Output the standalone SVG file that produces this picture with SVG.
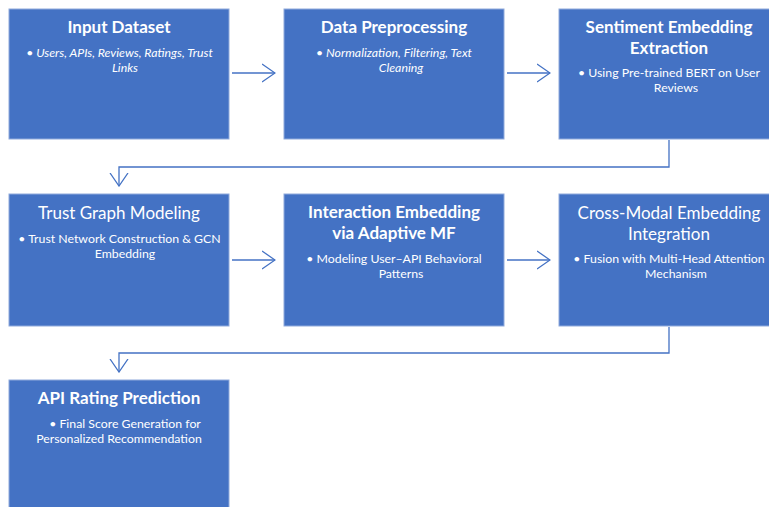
<svg xmlns="http://www.w3.org/2000/svg" width="769" height="507" viewBox="0 0 769 507">
<defs>
<style>
.box{fill:#4472C4;stroke:#8FAADC;stroke-width:1}
.t{font-family:Lato,"Liberation Sans",sans-serif;font-size:17px;fill:#fff;text-anchor:middle}
.b{font-weight:bold}
.s{font-family:Lato,"Liberation Sans",sans-serif;font-size:12.3px;fill:#fff;text-anchor:middle}
.i{font-style:italic}
.c{fill:none;stroke:#4472C4;stroke-width:1.3}
</style>
<marker id="arr" viewBox="0 0 14 20" refX="13" refY="10" markerWidth="14" markerHeight="20" markerUnits="userSpaceOnUse" orient="auto">
<path d="M0,1 L13,10 L0,19" fill="none" stroke="#4472C4" stroke-width="1.3"/>
</marker>
</defs>
<rect width="769" height="507" fill="#fff"/>
<g id="connectors">
<path class="c" d="M232,73 H275" marker-end="url(#arr)"/>
<path class="c" d="M507,73 H550" marker-end="url(#arr)"/>
<path class="c" d="M669,140 V167 H119 V186" marker-end="url(#arr)"/>
<path class="c" d="M232,260 H275" marker-end="url(#arr)"/>
<path class="c" d="M507,260 H550" marker-end="url(#arr)"/>
<path class="c" d="M669,327 V353 H119 V372" marker-end="url(#arr)"/>
</g>
<g id="n1">
<rect class="box" x="9" y="9" width="220" height="130"/>
<text class="t b" x="119" y="33">Input Dataset</text>
<text class="s i" x="119.5" y="57">•  Users, APIs, Reviews, Ratings, Trust</text>
<text class="s i" x="125" y="72">Links</text>
</g>
<g id="n2">
<rect class="box" x="284" y="9" width="220" height="130"/>
<text class="t b" x="394" y="33">Data Preprocessing</text>
<text class="s i" x="394" y="57">•  Normalization, Filtering, Text</text>
<text class="s i" x="401" y="72">Cleaning</text>
</g>
<g id="n3">
<rect class="box" x="559" y="9" width="220" height="130"/>
<text class="t b" x="669" y="33">Sentiment Embedding</text>
<text class="t b" x="669" y="54">Extraction</text>
<text class="s" x="669" y="77">•  Using Pre-trained BERT on User</text>
<text class="s" x="676" y="92">Reviews</text>
</g>
<g id="n4">
<rect class="box" x="9" y="194" width="220" height="132"/>
<text class="t" x="119" y="219">Trust Graph Modeling</text>
<text class="s" x="119.5" y="243">•  Trust Network Construction &amp; GCN</text>
<text class="s" x="125" y="258">Embedding</text>
</g>
<g id="n5">
<rect class="box" x="284" y="194" width="220" height="132"/>
<text class="t b" x="394" y="218">Interaction Embedding</text>
<text class="t b" x="394" y="239">via Adaptive MF</text>
<text class="s" x="394" y="263">•  Modeling User–API Behavioral</text>
<text class="s" x="401" y="278">Patterns</text>
</g>
<g id="n6">
<rect class="box" x="559" y="194" width="220" height="132"/>
<text class="t" x="669" y="219">Cross-Modal Embedding</text>
<text class="t" x="669" y="240">Integration</text>
<text class="s" x="669" y="263">•  Fusion with Multi-Head Attention</text>
<text class="s" x="676" y="278">Mechanism</text>
</g>
<g id="n7">
<rect class="box" x="9" y="380" width="220" height="140"/>
<text class="t b" x="119" y="404">API Rating Prediction</text>
<text class="s" x="125" y="428">•  Final Score Generation for</text>
<text class="s" x="119" y="443">Personalized Recommendation</text>
</g>
</svg>
